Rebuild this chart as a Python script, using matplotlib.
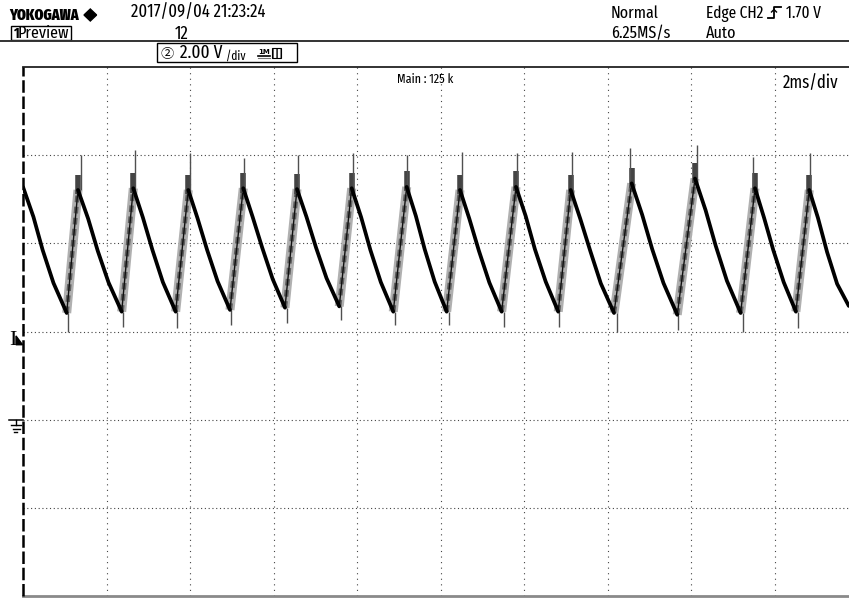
import matplotlib
matplotlib.use("Agg")
import matplotlib.pyplot as plt
from matplotlib.lines import Line2D
from matplotlib.patches import Rectangle, Polygon
from matplotlib.transforms import blended_transform_factory

# ---- waveform key points (time in ms, voltage in V) ----
start_t, start_v = 0.0, 5.28
end_t, end_v = 19.78, 2.58

trough_t = [1.047, 2.364, 3.657, 4.958, 6.275, 7.575, 8.869, 10.148, 11.465,
            12.820, 14.156, 15.671, 17.189, 18.513]
trough_v = [2.42, 2.45, 2.45, 2.49, 2.54, 2.57, 2.45, 2.45, 2.45,
            2.45, 2.42, 2.38, 2.42, 2.45]

peak_t = [1.317, 2.642, 3.959, 5.276, 6.563, 7.873, 9.190, 10.467, 11.808,
          13.118, 14.579, 16.096, 17.533, 18.833]
peak_v = [5.21, 5.25, 5.21, 5.25, 5.23, 5.25, 5.28, 5.21, 5.28,
          5.21, 5.36, 5.47, 5.25, 5.21]

# intermediate points along each decay (first decay starts at the left edge)
mid1_t = [0.25, 1.56, 2.87, 4.18, 5.50, 6.79, 8.10, 9.41, 10.69, 12.04,
          13.35, 14.83, 16.35, 17.75, 19.04]
mid1_v = [4.60, 4.56, 4.59, 4.57, 4.60, 4.60, 4.59, 4.62, 4.56, 4.62,
          4.55, 4.65, 4.75, 4.58, 4.58]
mid2_t = [0.47, 1.79, 3.10, 4.41, 5.73, 7.02, 8.32, 9.62, 10.92, 12.26,
          13.59, 15.07, 16.59, 17.97, 19.26]
mid2_v = [3.85, 3.83, 3.85, 3.85, 3.90, 3.90, 3.85, 3.87, 3.83, 3.87,
          3.82, 3.87, 3.95, 3.85, 3.80]
mid3_t = [0.73, 2.05, 3.35, 4.66, 5.98, 7.27, 8.57, 9.86, 11.17, 12.52,
          13.84, 15.34, 16.86, 18.22, 19.50]
mid3_v = [3.10, 3.11, 3.12, 3.14, 3.19, 3.21, 3.12, 3.13, 3.11, 3.13,
          3.09, 3.10, 3.15, 3.12, 3.08]

# noise spikes on each edge
spike_up_t = [1.382, 2.682, 4.000, 5.300, 6.587, 7.896, 9.204, 10.521, 11.838,
              13.156, 14.537, 16.135, 17.491, 18.849]
spike_up_v = [6.00, 6.11, 6.05, 5.93, 6.00, 6.05, 6.00, 6.08, 6.05,
              6.08, 6.16, 6.23, 5.96, 6.05]
spike_dn_t = [1.078, 2.388, 3.681, 4.982, 6.316, 7.609, 8.910, 10.203, 11.521,
              12.845, 14.233, 15.694, 17.238, 18.569]
spike_dn_v = [1.99, 2.11, 2.08, 2.15, 2.20, 2.27, 2.15, 2.15, 2.11,
              2.11, 2.00, 2.04, 2.00, 2.08]

volts_per_div = 2.0
ms_per_div = 2.0
trigger_level = 1.70

W, H = 849, 598
fig = plt.figure(figsize=(W / 100, H / 100), dpi=100)
fig.patch.set_facecolor("white")

NARROW = ["Fira Sans Extra Condensed", "Fira Sans Condensed", "DejaVu Sans"]
SYM = ["Noto Sans CJK JP", "DejaVu Sans"]


def px(x, y):
    return x / W, 1 - y / H


def txt(x, y, s, size=12.5, weight="normal", family=NARROW, **kw):
    # y is the text baseline, in pixels from the top
    fig.text(*px(x, y), s, fontsize=size, fontweight=weight, family=family,
             va="baseline", ha="left", color="black", **kw)


def fline(xs, ys, **kw):
    fig.add_artist(Line2D([a / W for a in xs], [1 - b / H for b in ys],
                          transform=fig.transFigure, **kw))


# ---- header ----
txt(9, 20, "YOKOGAWA", size=11, weight="black")
fig.add_artist(Polygon([px(84, 15), px(90.3, 9), px(96.6, 15), px(90.3, 21)],
                       closed=True, transform=fig.transFigure, color="black"))
txt(131, 17, "2017/09/04 21:23:24", size=13)
fig.add_artist(Rectangle(px(11, 40), 60 / W, 14 / H, transform=fig.transFigure,
                         fill=False, lw=1.0, ec="black"))
txt(13, 37.5, "1", size=10.5, weight="bold")
txt(18, 38.5, "Preview", size=12.5)
txt(175, 39, "12", size=13)
fline([0, W], [41, 41], color="#333333", lw=1.4)

fig.add_artist(Rectangle(px(157, 61.5), 140 / W, 18.5 / H, transform=fig.transFigure,
                         fill=False, lw=1.0, ec="black"))
txt(161, 58, "②", size=9.5, family=SYM)
txt(180, 58.5, "2.00 V", size=13.5)
txt(226, 59.5, "/div", size=9)
txt(258.5, 53.5, "1M", size=5, weight="bold", family=["DejaVu Sans"])
fline([258, 270], [56, 56], color="black", lw=1.2)
fline([258, 270], [58, 58], color="#777777", lw=0.8)
fig.add_artist(Rectangle(px(272, 58), 9 / W, 10 / H, transform=fig.transFigure,
                         fill=True, fc="white", ec="black", lw=0.8, hatch="||||"))

txt(611, 18, "Normal", size=12.5)
txt(611, 38, "6.25MS/s", size=12.5)
txt(706, 18, "Edge CH2", size=12)
# rising-edge trigger glyph
fline([768, 774, 774, 781], [17.5, 17.5, 7, 7], color="black", lw=1.3)
fline([771.5, 774, 776.5], [12, 9.5, 12], color="black", lw=1.0)
txt(786, 18, "1.70 V", size=12)
txt(706, 38, "Auto", size=12.5)

# ---- scope screen ----
ax = fig.add_axes([23 / W, 1 - 596 / H, 835 / W, (596 - 67) / H])
ax.set_xlim(0, 10 * ms_per_div)
ax.set_ylim(-2 * volts_per_div, 4 * volts_per_div)
ax.set_xticks([])
ax.set_yticks([])
for i in range(1, 10):
    ax.axvline(i * ms_per_div, color="#444444", lw=0.8, ls=(0, (1, 4)), zorder=1)
for j in range(-1, 4):
    ax.axhline(j * volts_per_div, color="#444444", lw=0.8, ls=(0, (1, 2.4)), zorder=1)

ax.spines["right"].set_visible(False)
ax.spines["top"].set_color("#222222")
ax.spines["top"].set_linewidth(1.3)
ax.spines["bottom"].set_color("#8a8a8a")
ax.spines["bottom"].set_linewidth(2.0)
ax.spines["left"].set_visible(False)
ax.axvline(0, color="black", lw=1.8, ls=(0, (5, 1.5)), zorder=5, clip_on=False)

# decay segments (solid black)
decay_start = [(start_t, start_v)] + list(zip(peak_t, peak_v))
decay_end = list(zip(trough_t, trough_v)) + [(end_t, end_v)]
for k in range(len(decay_start)):
    (t0, v0), (t3, v3) = decay_start[k], decay_end[k]
    ax.plot([t0, mid1_t[k], mid2_t[k], mid3_t[k], t3],
            [v0, mid1_v[k], mid2_v[k], mid3_v[k], v3],
            color="black", lw=2.7, solid_capstyle="round", solid_joinstyle="round",
            zorder=4)

# rising edges: noisy grey band with a darker core, plus spikes
for k in range(len(peak_t)):
    rt = [trough_t[k], peak_t[k]]
    rv = [trough_v[k], peak_v[k]]
    ax.plot(rt, rv, color="#b0b0b0", lw=6.5, solid_capstyle="butt", zorder=2)
    ax.plot(rt, rv, color="#606060", lw=3.2, ls=(0, (1.5, 1)), zorder=3)
    ax.plot(rt, rv, color="#111111", lw=1.0, zorder=3)
    ax.vlines(peak_t[k], peak_v[k] - 0.1, peak_v[k] + 0.35, color="#444444", lw=4.0, zorder=3)
    ax.vlines(spike_up_t[k], peak_v[k], spike_up_v[k], color="#505050", lw=1.0, zorder=3)
    ax.vlines(spike_dn_t[k], spike_dn_v[k], trough_v[k], color="#505050", lw=1.0, zorder=3)

txt(397, 83, "Main : 125 k", size=9.5)
txt(783, 88, "2ms/div", size=13)

# trigger level and ground markers on the left edge
lt = blended_transform_factory(fig.transFigure, ax.transData)
fig.text(9 / W, trigger_level, "I", transform=lt, fontsize=16,
         family=["Liberation Serif", "DejaVu Serif"], va="baseline", ha="left")
fig.add_artist(Polygon([(16 / W, trigger_level + 0.2), (22.5 / W, trigger_level),
                        (16 / W, trigger_level)], closed=True, transform=lt,
                       color="black"))
fig.add_artist(Line2D([9 / W, 23 / W], [0, 0], transform=lt, color="black", lw=1.1))
fig.add_artist(Line2D([15.5 / W, 15.5 / W], [0, -0.13], transform=lt, color="black", lw=1.0))
fig.add_artist(Line2D([11 / W, 21 / W], [-0.13, -0.13], transform=lt, color="black", lw=1.0))
fig.add_artist(Line2D([12.5 / W, 19.5 / W], [-0.21, -0.21], transform=lt, color="black", lw=1.0))
fig.add_artist(Line2D([14 / W, 17 / W], [-0.29, -0.29], transform=lt, color="black", lw=1.0))

fig.savefig("out.png", dpi=100, facecolor="white")
